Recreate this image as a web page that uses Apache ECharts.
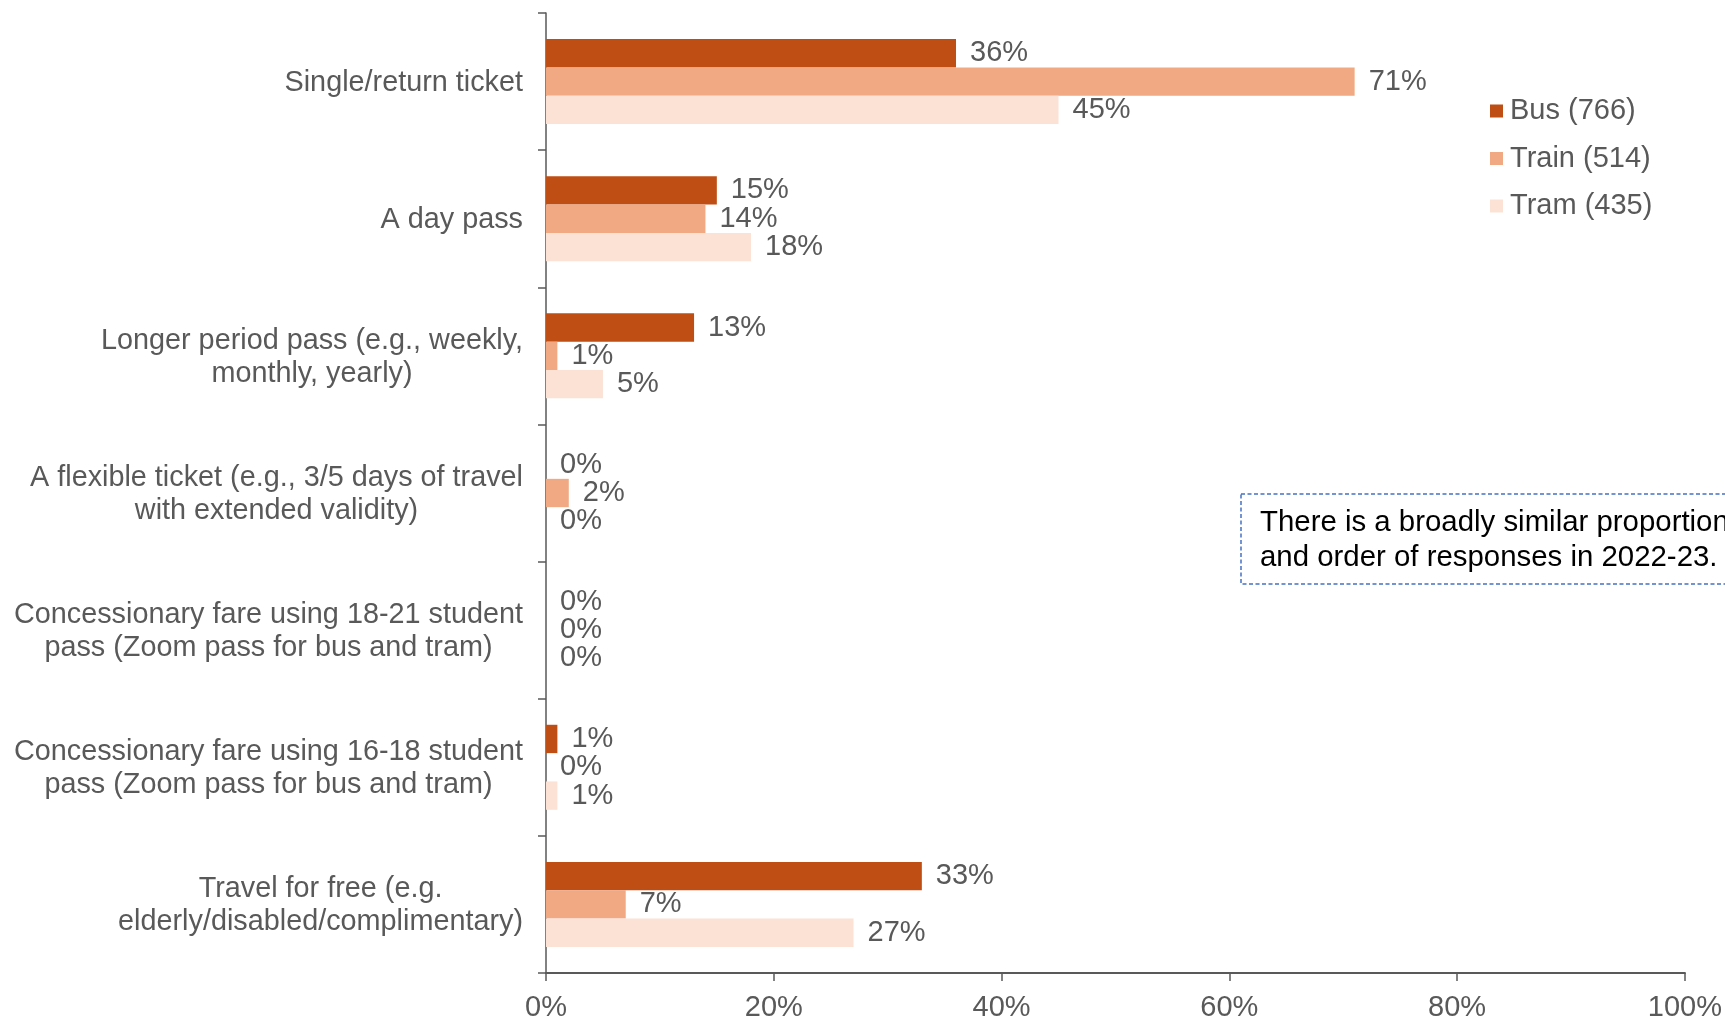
<!DOCTYPE html>
<html>
<head>
<meta charset="utf-8">
<script src="https://cdn.jsdelivr.net/npm/echarts@6/dist/echarts.min.js"></script>
<style>
  html, body { margin: 0; padding: 0; background: #ffffff; }
  #chart { width: 1725px; height: 1022px; }
</style>
</head>
<body>
<div id="chart"></div>
<script>
// Ticket types, top to bottom
const categories = [
  'Single/return ticket',
  'A day pass',
  'Longer period pass (e.g., weekly,\nmonthly, yearly)',
  'A flexible ticket (e.g., 3/5 days of travel\nwith extended validity)',
  'Concessionary fare using 18-21 student\npass (Zoom pass for bus and tram)',
  'Concessionary fare using 16-18 student\npass (Zoom pass for bus and tram)',
  'Travel for free (e.g.\nelderly/disabled/complimentary)'
];

const seriesNames = ['Bus (766)', 'Train (514)', 'Tram (435)'];

// Share of respondents (%)
const busValues = [36, 15, 13, 0, 0, 1, 33];
const trainValues = [71, 14, 1, 2, 0, 0, 7];
const tramValues = [45, 18, 5, 0, 0, 1, 27];

// Value axis ticks (%)
const xTicks = [0, 20, 40, 60, 80, 100];

const noteLines = [
  'There is a broadly similar proportion',
  'and order of responses in 2022-23.'
];

const FONT = '"Liberation Sans", Arial, sans-serif';
const FS = 29;
const CAT_FS = 28.8;
const GREY = '#595959';
const colors = ['#BF4E14', '#F1A983', '#FBE2D5'];

const chart = echarts.init(document.getElementById('chart'), null, { renderer: 'canvas' });

function barSeries(name, data) {
  return {
    name: name,
    type: 'bar',
    data: data,
    barGap: '0%',
    barCategoryGap: '38%',
    label: {
      show: true,
      position: 'right',
      distance: 14,
      padding: [5, 0, 0, 0],
      formatter: '{c}%',
      color: GREY,
      fontSize: FS,
      fontFamily: FONT
    }
  };
}

chart.setOption({
  animation: false,
  color: colors,
  textStyle: { fontFamily: FONT },
  grid: { left: 546, right: 40, top: 13, bottom: 47, containLabel: false },
  legend: {
    orient: 'vertical',
    left: 1490,
    top: 96,
    padding: 0,
    icon: 'rect',
    itemWidth: 13,
    itemHeight: 13,
    itemGap: 17.5,
    textStyle: { fontSize: FS, color: GREY, fontFamily: FONT, lineHeight: 30, padding: [0, 0, 0, 2] },
    data: seriesNames
  },
  xAxis: {
    type: 'value',
    min: xTicks[0],
    max: xTicks[xTicks.length - 1],
    interval: xTicks[1] - xTicks[0],
    splitLine: { show: false },
    axisLine: { show: true, lineStyle: { color: GREY, width: 2 } },
    axisTick: { show: true, length: 8, lineStyle: { color: GREY, width: 1.5 } },
    axisLabel: {
      margin: 20,
      formatter: '{value}%',
      color: GREY,
      fontSize: FS,
      fontFamily: FONT
    }
  },
  yAxis: {
    type: 'category',
    inverse: true,
    data: categories,
    axisLine: { show: true, lineStyle: { color: GREY, width: 1.5 } },
    axisTick: { show: true, length: 8, lineStyle: { color: GREY, width: 1.5 } },
    axisLabel: {
      margin: 23,
      padding: [3, 0, 0, 0],
      color: GREY,
      fontSize: CAT_FS,
      fontFamily: FONT,
      formatter: function (value) {
        return value.split('\n').map(function (l) { return '{c|' + l + '}'; }).join('\n');
      },
      rich: {
        c: { align: 'center', fontSize: CAT_FS, fontFamily: FONT, color: GREY, lineHeight: 33 }
      }
    }
  },
  series: [
    barSeries(seriesNames[0], busValues),
    barSeries(seriesNames[1], trainValues),
    barSeries(seriesNames[2], tramValues)
  ],
  graphic: [
    {
      type: 'rect',
      shape: { x: 1241, y: 494, width: 520, height: 90 },
      style: { fill: '#ffffff', stroke: '#4472C4', lineWidth: 1.5, lineDash: [4, 2.5] },
      z: 10
    },
    {
      type: 'text',
      x: 1260,
      y: 505,
      style: {
        text: noteLines.join('\n'),
        fill: '#000000',
        font: '29.4px ' + FONT,
        lineHeight: 35,
        verticalAlign: 'top'
      },
      z: 11
    }
  ]
});
</script>
</body>
</html>
